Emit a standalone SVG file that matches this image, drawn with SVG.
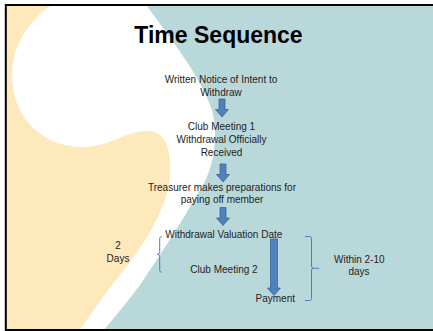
<svg xmlns="http://www.w3.org/2000/svg" width="433" height="331" viewBox="0 0 433 331">
<style>
text{font-family:"Liberation Sans",Arial,sans-serif;fill:#1e1e1e;text-anchor:middle}
.t{font-size:10px}
.title{font-size:23px;font-weight:bold;fill:#000}
.arr{fill:#4f81bd;stroke:#385d8a;stroke-width:0.7}
.br{fill:none;stroke:#4a7ebb;stroke-width:1}
</style>
<rect x="0" y="0" width="433" height="331" fill="#ffffff"/>
<rect x="6" y="6" width="427" height="324" fill="#b9d8da"/>
<path d="M6,6 L147,6 C170,38 200,75 212,110 C220,140 212,175 197,195 C180,225 160,255 140,285 C125,305 112,320 104,330 L6,330 Z" fill="#ffffff"/>
<path d="M6,6 L50,6 C30,20 12,45 12,75 C12,115 40,147 83,147 C110,147 125,131 148,131 C165,131 172,150 170,175 C168,210 140,250 120,275 C100,300 88,318 80,330 L6,330 Z" fill="#fde9bb"/>
<rect x="5.8" y="5" width="440" height="325" fill="none" stroke="#000" stroke-width="2"/>
<text class="title" x="218.5" y="43">Time Sequence</text>
<g id="n1"><text class="t" x="221" y="82.7">Written Notice of Intent to</text><text class="t" x="221" y="95.7">Withdraw</text></g>
<g id="n2"><text class="t" x="221.5" y="130">Club Meeting 1</text><text class="t" x="221.5" y="142.7">Withdrawal Officially</text><text class="t" x="221.5" y="155.7">Received</text></g>
<g id="n3"><text class="t" x="222" y="190.7">Treasurer makes preparations for</text><text class="t" x="222" y="203.3">paying off member</text></g>
<g id="n4"><text class="t" x="223.8" y="237.7">Withdrawal Valuation Date</text></g>
<g id="n5"><text class="t" x="224" y="273.3">Club Meeting 2</text></g>
<g id="n6"><text class="t" x="275.3" y="302.3">Payment</text></g>
<g id="n7"><text class="t" x="118" y="248.5">2</text><text class="t" x="118" y="261.7">Days</text></g>
<g id="n8"><text class="t" x="359.3" y="262.7">Within 2-10</text><text class="t" x="359" y="274.8">days</text></g>
<g id="connectors">
<path class="arr" d="M219,99 H225 V109.5 H228.5 L222,117 L215.5,109.5 H219 Z"/>
<path class="arr" d="M220,164 H226 V174.5 H229.5 L223,182 L216.5,174.5 H220 Z"/>
<path class="arr" d="M220,207.5 H226 V218 H229.5 L223,225.5 L216.5,218 H220 Z"/>
<path class="arr" d="M270.5,239 H277.5 V288 H280.5 L274,295.5 L267.5,288 H270.5 Z"/>
<path class="br" d="M161.7,236.7 Q159.7,236.7 159.7,238.7 V252.3 Q159.7,254.3 157.5,254.3 Q159.7,254.3 159.7,256.3 V270.3 Q159.7,272.3 161.7,272.3"/>
<path class="br" d="M305,236.5 H309.5 Q311.5,236.5 311.5,238.5 V266.3 Q311.5,268.3 313.5,268.3 H319.3 M313.5,268.3 Q311.5,268.3 311.5,270.3 V298.5 Q311.5,300.5 309.5,300.5 H305"/>
</g>
</svg>
